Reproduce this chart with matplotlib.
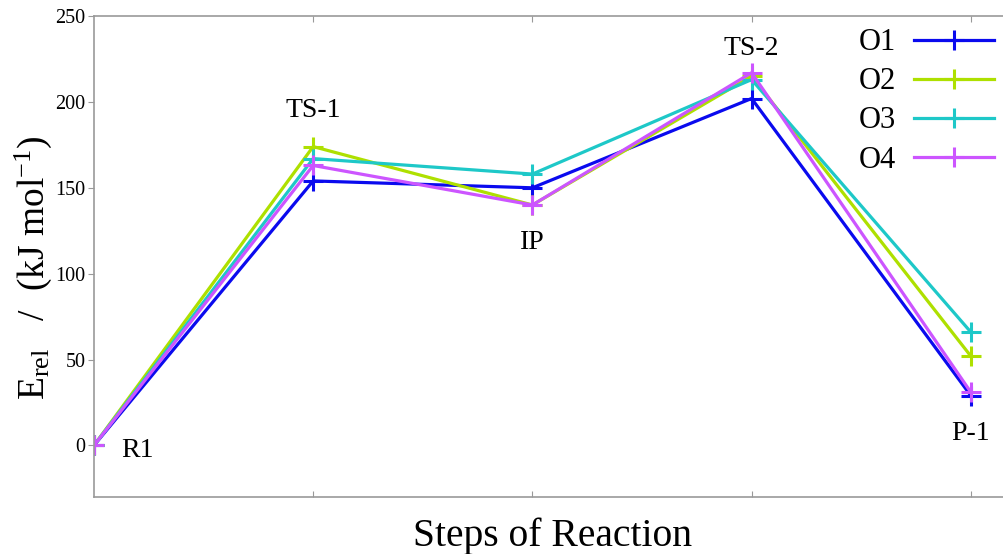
import matplotlib
matplotlib.use("Agg")
import matplotlib.pyplot as plt

steps = ["R1", "TS-1", "IP", "TS-2", "P-1"]
series_names = ["O1", "O2", "O3", "O4"]
o1 = [0, 154, 150, 202, 29]
o2 = [0, 174, 140, 215, 52]
o3 = [0, 167, 158, 213, 66]
o4 = [0, 163, 140, 217, 31]
colors = ["#0a0aee", "#aee000", "#1ec8c8", "#cc55ff"]
yticks = [0, 50, 100, 150, 200, 250]

plt.rcParams['font.family'] = ['Liberation Serif', 'DejaVu Serif']
plt.rcParams['mathtext.fontset'] = 'custom'
plt.rcParams['mathtext.rm'] = 'Liberation Serif'
plt.rcParams['mathtext.it'] = 'Liberation Serif'

fig = plt.figure(figsize=(10.04, 5.54), dpi=100)
ax = fig.add_axes([0.0936, 0.103, 0.905, 0.868])

x = list(range(len(steps)))
for name, vals, c in zip(series_names, [o1, o2, o3, o4], colors):
    ax.plot(x, vals, color=c, lw=2.3, marker='+', ms=15, mew=2.2, label=name)

ax.set_xlim(0, 4.145)
ax.set_ylim(-30, 250)
ax.set_yticks(yticks)
ax.set_xticks([1, 2, 3, 4])
ax.set_xticklabels([])
ax.tick_params(axis='x', direction='in', length=4, color='#999999', top=True, bottom=True)
ax.tick_params(axis='y', direction='out', length=4, color='#999999', labelsize=14.5, pad=2)
for s in ['left', 'bottom', 'top']:
    ax.spines[s].set_color('#999999')
    ax.spines[s].set_linewidth(1.2)
ax.spines['right'].set_visible(False)

# step labels
label_pos = [(0.125, -3, 'left'), (1, 195, 'center'), (2, 118, 'center'), (3, 231, 'center'), (4, 7, 'center')]
for name, (lx, ly, ha) in zip(steps, label_pos):
    ax.text(lx, ly, name, fontsize=20, ha=ha, va='center')

fig.text(553 / 1004, 1 - 546 / 554, "Steps of Reaction", fontsize=28.5,
         ha='center', va='baseline')
fig.text(33 / 1004, 1 - 268 / 554,
         r"$\mathregular{E_{rel}}$   /  (kJ mol$^{\mathregular{-1}}$)",
         fontsize=27, rotation=90, ha='center', va='center')

leg = ax.legend(loc='upper right', frameon=False, markerfirst=False, fontsize=22,
                handlelength=2.6, handletextpad=0.6, labelspacing=0.33,
                borderaxespad=0.0, borderpad=0.1, bbox_to_anchor=(0.9935, 0.981))

fig.savefig("out.png", dpi=100)
